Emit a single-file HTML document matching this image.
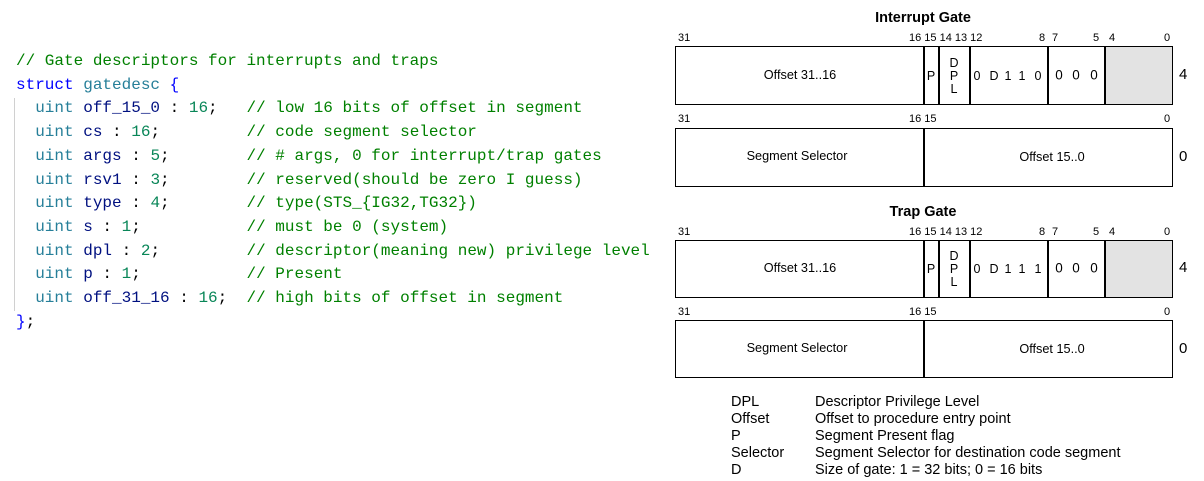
<!DOCTYPE html>
<html><head><meta charset="utf-8"><style>
body{margin:0;width:1204px;height:481px;background:#fff;position:relative;overflow:hidden;font-family:"Liberation Sans",Arial,sans-serif}
.a{position:absolute;white-space:pre}
.code{position:absolute;left:16px;top:50px;font-family:"Liberation Mono",monospace;font-size:16px;line-height:23.7px;color:#001080;white-space:pre}
.c{color:#008000}.k{color:#0000ff}.t{color:#267f99}.n{color:#098658}.p{color:#000}
.guide{position:absolute;left:14px;top:98px;width:1px;height:213px;background:#d0d0d0}
.box{position:absolute;border:1.5px solid #000;box-sizing:border-box}
.v{position:absolute;width:1.5px;background:#000}
.b{position:absolute;font-size:11px;color:#000}
.t12{position:absolute;font-size:12.7px;transform:translate(-50%,-50%)}
.d{position:absolute;font-size:12.5px;transform:translate(-50%,-50%)}
.z{position:absolute;font-size:13.5px;transform:translate(-50%,-50%)}
.side{position:absolute;font-size:15px}
.title{position:absolute;font-size:14.5px;font-weight:bold;transform:translateX(-50%)}
.leg{position:absolute;font-size:14.5px;line-height:17px;white-space:pre}
</style></head><body>
<div class="guide"></div>
<div class="code"><span class="c">// Gate descriptors for interrupts and traps</span>
<span class="k">struct</span> <span class="t">gatedesc</span> <span class="k">{</span>
  <span class="t">uint</span> off_15_0 <span class="p">:</span> <span class="n">16</span><span class="p">;</span>   <span class="c">// low 16 bits of offset in segment</span>
  <span class="t">uint</span> cs <span class="p">:</span> <span class="n">16</span><span class="p">;</span>         <span class="c">// code segment selector</span>
  <span class="t">uint</span> args <span class="p">:</span> <span class="n">5</span><span class="p">;</span>        <span class="c">// # args, 0 for interrupt/trap gates</span>
  <span class="t">uint</span> rsv1 <span class="p">:</span> <span class="n">3</span><span class="p">;</span>        <span class="c">// reserved(should be zero I guess)</span>
  <span class="t">uint</span> type <span class="p">:</span> <span class="n">4</span><span class="p">;</span>        <span class="c">// type(STS_{IG32,TG32})</span>
  <span class="t">uint</span> s <span class="p">:</span> <span class="n">1</span><span class="p">;</span>           <span class="c">// must be 0 (system)</span>
  <span class="t">uint</span> dpl <span class="p">:</span> <span class="n">2</span><span class="p">;</span>         <span class="c">// descriptor(meaning new) privilege level</span>
  <span class="t">uint</span> p <span class="p">:</span> <span class="n">1</span><span class="p">;</span>           <span class="c">// Present</span>
  <span class="t">uint</span> off_31_16 <span class="p">:</span> <span class="n">16</span><span class="p">;</span>  <span class="c">// high bits of offset in segment</span>
<span class="k">}</span><span class="p">;</span></div>

<!-- Interrupt Gate -->
<div class="title" style="left:923px;top:10px">Interrupt Gate</div>
<div class="b" style="left:678px;top:32px">31</div>
<div class="b" style="left:909px;top:32px">16 15 14 13 12</div>
<div class="b" style="left:1039px;top:32px">8</div>
<div class="b" style="left:1052px;top:32px">7</div>
<div class="b" style="left:1093px;top:32px">5</div>
<div class="b" style="left:1109px;top:32px">4</div>
<div class="b" style="left:1164px;top:32px">0</div>
<div class="box" style="left:675px;top:46px;width:498px;height:59px"></div>
<div style="position:absolute;left:1105px;top:47px;width:67px;height:57px;background:#e3e3e3"></div>
<div class="v" style="left:923px;top:46px;height:59px"></div>
<div class="v" style="left:938px;top:46px;height:59px"></div>
<div class="v" style="left:969px;top:46px;height:59px"></div>
<div class="v" style="left:1047px;top:46px;height:59px"></div>
<div class="v" style="left:1104px;top:46px;height:59px"></div>
<div class="t12" style="left:800px;top:75px">Offset 31..16</div>
<div class="d" style="left:931px;top:76px">P</div>
<div class="d" style="left:954px;top:63px">D</div>
<div class="d" style="left:954px;top:76px">P</div>
<div class="d" style="left:954px;top:89px">L</div>
<div class="d" style="left:977px;top:76px">0</div>
<div class="d" style="left:994px;top:76px">D</div>
<div class="d" style="left:1008px;top:76px">1</div>
<div class="d" style="left:1022px;top:76px">1</div>
<div class="d" style="left:1038px;top:76px">0</div>
<div class="z" style="left:1059px;top:75px">0</div>
<div class="z" style="left:1076px;top:75px">0</div>
<div class="z" style="left:1094px;top:75px">0</div>
<div class="side" style="left:1179px;top:66px">4</div>
<div class="b" style="left:678px;top:113px">31</div>
<div class="b" style="left:909px;top:113px">16 15</div>
<div class="b" style="left:1164px;top:113px">0</div>
<div class="box" style="left:675px;top:128px;width:498px;height:59px"></div>
<div class="v" style="left:923px;top:128px;height:59px"></div>
<div class="t12" style="left:797px;top:156px">Segment Selector</div>
<div class="t12" style="left:1052px;top:157px">Offset 15..0</div>
<div class="side" style="left:1179px;top:148px">0</div>

<!-- Trap Gate -->
<div class="title" style="left:923px;top:204px">Trap Gate</div>
<div class="b" style="left:678px;top:226px">31</div>
<div class="b" style="left:909px;top:226px">16 15 14 13 12</div>
<div class="b" style="left:1039px;top:226px">8</div>
<div class="b" style="left:1052px;top:226px">7</div>
<div class="b" style="left:1093px;top:226px">5</div>
<div class="b" style="left:1109px;top:226px">4</div>
<div class="b" style="left:1164px;top:226px">0</div>
<div class="box" style="left:675px;top:240px;width:498px;height:58px"></div>
<div style="position:absolute;left:1105px;top:241px;width:67px;height:56px;background:#e3e3e3"></div>
<div class="v" style="left:923px;top:240px;height:58px"></div>
<div class="v" style="left:938px;top:240px;height:58px"></div>
<div class="v" style="left:969px;top:240px;height:58px"></div>
<div class="v" style="left:1047px;top:240px;height:58px"></div>
<div class="v" style="left:1104px;top:240px;height:58px"></div>
<div class="t12" style="left:800px;top:268px">Offset 31..16</div>
<div class="d" style="left:931px;top:269px">P</div>
<div class="d" style="left:954px;top:256px">D</div>
<div class="d" style="left:954px;top:269px">P</div>
<div class="d" style="left:954px;top:282px">L</div>
<div class="d" style="left:977px;top:269px">0</div>
<div class="d" style="left:994px;top:269px">D</div>
<div class="d" style="left:1008px;top:269px">1</div>
<div class="d" style="left:1022px;top:269px">1</div>
<div class="d" style="left:1038px;top:269px">1</div>
<div class="z" style="left:1059px;top:268px">0</div>
<div class="z" style="left:1076px;top:268px">0</div>
<div class="z" style="left:1094px;top:268px">0</div>
<div class="side" style="left:1179px;top:259px">4</div>
<div class="b" style="left:678px;top:306px">31</div>
<div class="b" style="left:909px;top:306px">16 15</div>
<div class="b" style="left:1164px;top:306px">0</div>
<div class="box" style="left:675px;top:320px;width:498px;height:58px"></div>
<div class="v" style="left:923px;top:320px;height:58px"></div>
<div class="t12" style="left:797px;top:348px">Segment Selector</div>
<div class="t12" style="left:1052px;top:349px">Offset 15..0</div>
<div class="side" style="left:1179px;top:340px">0</div>

<!-- Legend -->
<div class="leg" style="left:731px;top:394px">DPL
Offset
P
Selector
D</div>
<div class="leg" style="left:815px;top:394px">Descriptor Privilege Level
Offset to procedure entry point
Segment Present flag
Segment Selector for destination code segment
Size of gate: 1 = 32 bits; 0 = 16 bits</div>
</body></html>
